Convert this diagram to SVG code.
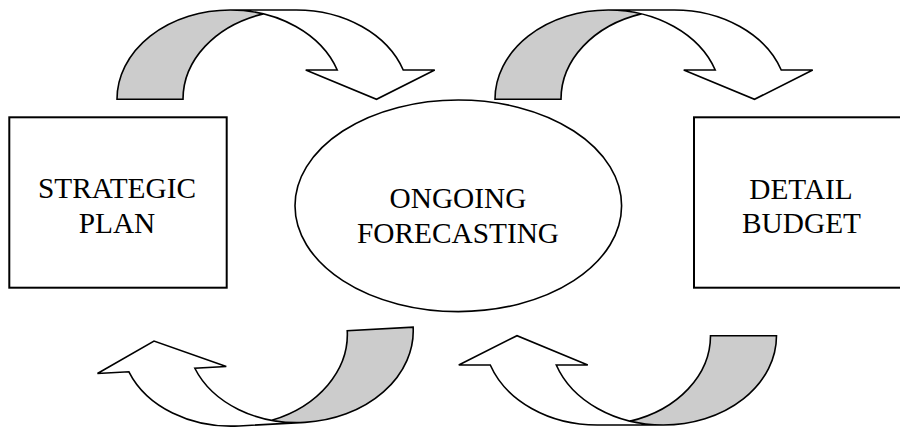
<svg xmlns="http://www.w3.org/2000/svg" xmlns:xlink="http://www.w3.org/1999/xlink" width="900" height="429" viewBox="0 0 900 429">
  <style>
    .box { fill: #ffffff; stroke: #000000; stroke-width: 2; }
    .oval { fill: #ffffff; stroke: #000000; stroke-width: 1.6; }
    .label { font-family: "Liberation Serif", "Times New Roman", serif; font-size: 29.33px; fill: #000000; text-anchor: middle; }
    .band-front { fill: #ffffff; stroke: none; }
    .band-back { fill: #cccccc; stroke: none; }
    .band-line { fill: none; stroke: #000000; stroke-width: 1.6; stroke-linejoin: miter; }
  </style>
  <defs>
    <!-- curved block arrow: back band (shaded) rising on the left, front band arching over to a downward head on the right -->
    <g id="curvedArrow">
      <path class="band-front" d="M259.5,89.3 L188.73,60 L220.23,60 A113.25,89.3 0 0,0 113.25,0 L179.25,0 A113.25,89.3 0 0,1 286.23,60 L317.73,60 Z"/>
      <path class="band-back" d="M146.25,3.87 A113.25,89.3 0 0,0 66,89.3 L0,89.3 A113.25,89.3 0 0,1 146.25,3.87 Z"/>
      <path class="band-line" d="M146.25,3.87 A113.25,89.3 0 0,0 66,89.3 L0,89.3 A113.25,89.3 0 0,1 113.25,0 L179.25,0 A113.25,89.3 0 0,1 286.23,60 L317.73,60 L259.5,89.3 L188.73,60 L220.23,60 A113.25,89.3 0 0,0 113.25,0"/>
    </g>
  </defs>

  <g id="connectors">
    <use xlink:href="#curvedArrow" transform="translate(117,10)"/>
    <use xlink:href="#curvedArrow" transform="translate(495,10)"/>
    <use xlink:href="#curvedArrow" transform="rotate(-3.1 255 375) translate(415.5,425) rotate(180)"/>
    <use xlink:href="#curvedArrow" transform="translate(776.5,425) rotate(180)"/>
  </g>

  <g id="strategic-plan">
    <rect class="box" x="9.3" y="117.3" width="217.4" height="170.4"/>
    <text class="label" x="117" y="198.3">STRATEGIC</text>
    <text class="label" x="117" y="232.7">PLAN</text>
  </g>

  <g id="ongoing-forecasting">
    <ellipse class="oval" cx="458.3" cy="205.8" rx="163.3" ry="105.8"/>
    <text class="label" x="458" y="207.7">ONGOING</text>
    <text class="label" x="458" y="242.7">FORECASTING</text>
  </g>

  <g id="detail-budget">
    <rect class="box" x="694" y="117.3" width="217.4" height="170.4"/>
    <text class="label" x="801" y="199.3">DETAIL</text>
    <text class="label" x="801.5" y="232.7">BUDGET</text>
  </g>
</svg>
